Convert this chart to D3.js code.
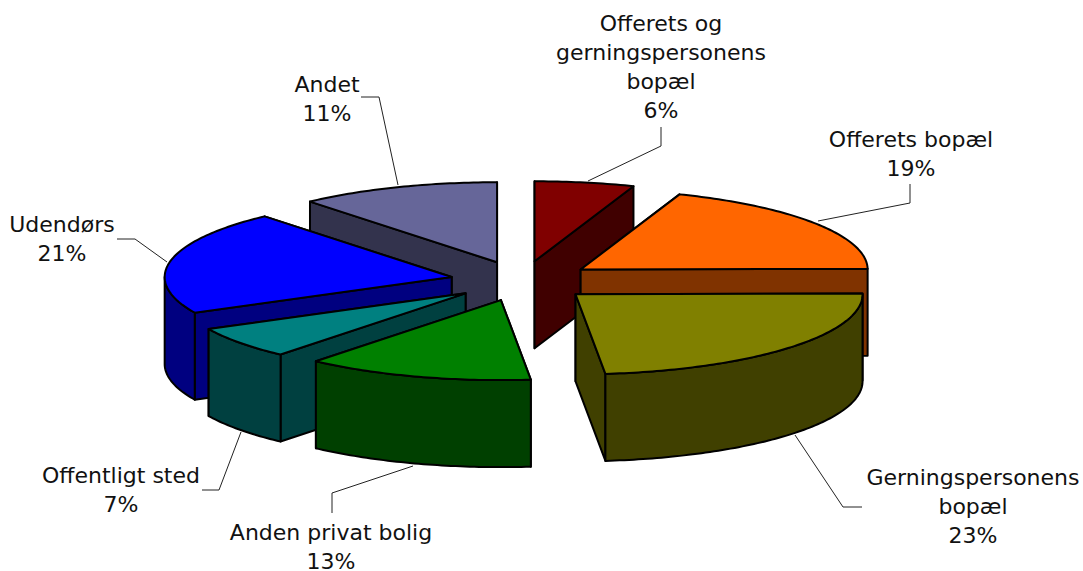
<!DOCTYPE html>
<html>
<head>
<meta charset="utf-8">
<script src="https://cdn.jsdelivr.net/npm/d3@7"></script>
<style>
    html, body { margin: 0; padding: 0; background: #fff; }
    svg { display: block; }
    text { font-family: "DejaVu Sans", Verdana, sans-serif; font-size: 22px; fill: #111; }
</style>
</head>
<body>
<div id="chart"></div>
<script>
// slices, clockwise from 12 o'clock
const names = [
    ["Offerets og", "gerningspersonens", "bopæl"],
    ["Offerets bopæl"],
    ["Gerningspersonens", "bopæl"],
    ["Anden privat bolig"],
    ["Offentligt sted"],
    ["Udendørs"],
    ["Andet"]
];
const values = [5.6, 19.25, 23.49, 12.81, 6.5, 21.05, 11.3];
const topColors = ["#800000", "#ff6600", "#808000", "#008000", "#008080", "#0000ff", "#666699"];
const sideColors = ["#400000", "#803300", "#404000", "#004000", "#004040", "#000080", "#33334d"];

// label placement, same order as the slices
const labelX = [661, 911, 973, 331, 121, 62, 327];
const labelY = [31, 147, 485, 540, 483, 232, 92];
const leaders = [
    [[588, 181], [661, 146], [661, 127]],
    [[818, 221], [910, 203], [910, 184]],
    [[795, 435], [843, 507], [862, 507]],
    [[413, 466], [332, 493], [332, 513]],
    [[241, 432], [219, 490], [202, 490]],
    [[167, 262], [135, 239], [117, 239]],
    [[398, 185], [379, 97], [361, 97]]
];

const width = 1083, height = 571;
const cx = 522, cy = 281;
const rx = 287, ry = 80, depth = 87;
const explode = 0.25;

const svg = d3.select("#chart").append("svg")
    .attr("width", width)
    .attr("height", height);

const pie = d3.pie().sort(null).value(d => d);
const arcs = pie(values);

const line = d3.line();

// a pie angle to a point on the flattened ellipse
function project(angle, k) {
    return [rx * k * Math.sin(angle), -ry * k * Math.cos(angle)];
}

function arcPoints(a0, a1) {
    let n = Math.max(2, Math.ceil((a1 - a0) * 60));
    return d3.range(n + 1).map(i => project(a0 + (a1 - a0) * i / n, 1));
}

function radialFace(angle) {
    let p = project(angle, 1);
    return line([[0, 0], p, [p[0], p[1] + depth], [0, depth]]) + "Z";
}

// back to front
const drawOrder = [0, 6, 5, 4, 3, 1, 2];

drawOrder.forEach(i => {
    let d = arcs[i];
    let mid = (d.startAngle + d.endAngle) / 2;
    let off = project(mid, explode);

    let g = svg.append("g")
        .attr("transform", `translate(${cx + off[0]}, ${cy + off[1]})`)
        .attr("stroke", "#000")
        .attr("stroke-width", 2)
        .attr("stroke-linejoin", "round");

    // the cut faces; the one further back goes first
    let faces = mid < Math.PI ? [d.startAngle, d.endAngle] : [d.endAngle, d.startAngle];
    faces.forEach(a => {
        g.append("path").attr("d", radialFace(a)).attr("fill", sideColors[i]);
    });

    // outer wall, only the part on the front half
    let w0 = Math.max(d.startAngle, Math.PI / 2);
    let w1 = Math.min(d.endAngle, Math.PI * 1.5);
    if (w1 > w0) {
        let upper = arcPoints(w0, w1);
        let lower = upper.map(p => [p[0], p[1] + depth]).reverse();
        g.append("path")
            .attr("d", line(upper.concat(lower)) + "Z")
            .attr("fill", sideColors[i]);
    }

    // top
    g.append("path")
        .attr("d", line([[0, 0]].concat(arcPoints(d.startAngle, d.endAngle))) + "Z")
        .attr("fill", topColors[i]);
});

// leader lines
svg.selectAll(".leader")
    .data(leaders)
    .enter().append("path")
    .attr("class", "leader")
    .attr("d", d => line(d))
    .attr("fill", "none")
    .attr("stroke", "#222")
    .attr("stroke-width", 1);

// labels
names.forEach((lines, i) => {
    let t = svg.append("text")
        .attr("text-anchor", "middle")
        .attr("x", labelX[i])
        .attr("y", labelY[i]);
    lines.concat([Math.round(values[i]) + "%"]).forEach((s, j) => {
        t.append("tspan")
            .attr("x", labelX[i])
            .attr("dy", j == 0 ? 0 : 29)
            .text(s);
    });
});
</script>
</body>
</html>
